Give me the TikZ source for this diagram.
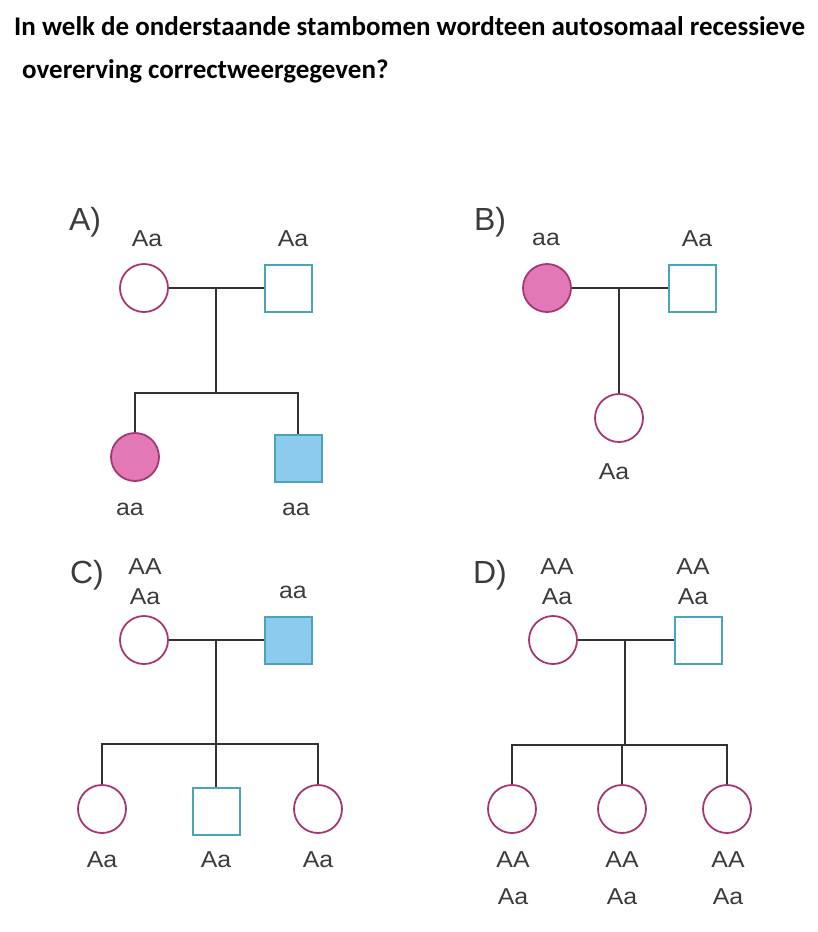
\documentclass[tikz,border=0pt]{standalone}
\usepackage{fontspec}
\setmainfont{Liberation Sans}
\newfontfamily\titlefont{Carlito}
\newfontfamily\genofont[FakeStretch=1.08]{Liberation Sans}
\usetikzlibrary{positioning,calc}

\definecolor{femline}{RGB}{165,55,115}
\definecolor{femfill}{RGB}{226,120,182}
\definecolor{malline}{RGB}{75,165,185}
\definecolor{malfill}{RGB}{140,202,238}
\definecolor{linegray}{RGB}{50,50,50}
\definecolor{txtgray}{RGB}{60,60,60}

\begin{document}
\begin{tikzpicture}[x=1pt,y=-1pt]
\tikzset{female/.style={circle,draw=femline,line width=1.8pt,fill=white,minimum size=48pt,inner sep=0pt}}
\tikzset{male/.style={rectangle,draw=malline,line width=2pt,fill=white,minimum size=47pt,inner sep=0pt}}
\tikzset{ill/.style={fill=femfill},illm/.style={fill=malfill}}
\tikzset{geno/.style={text=txtgray,font=\genofont\fontsize{23}{30}\selectfont,align=center,inner sep=0pt}}
\tikzset{panel/.style={text=txtgray,font=\fontsize{32}{33}\selectfont,inner sep=0pt}}
\tikzset{link/.style={draw=linegray,line width=2pt}}
\useasboundingbox (0,0) rectangle (818,932);
% vraag
\node[anchor=base west,inner sep=0pt,font=\titlefont\bfseries\fontsize{27}{30}\selectfont] (q1) at (14,35) {In welk de onderstaande stambomen wordteen autosomaal recessieve};
\node[anchor=base west,inner sep=0pt,font=\titlefont\bfseries\fontsize{27}{30}\selectfont] (q2) at (22,78) {overerving correctweergegeven?};
% A
\node[panel] (pa) at (85,222) {A)};
\node[female] (af) at (144,288) {};
\node[male] (am) at (288,288) {};
\node[female,ill] (ac1) at (135,457) {};
\node[male,illm] (ac2) at (298,458) {};
\node[geno] (afl) at (147,239) {Aa};
\node[geno] (aml) at (293,239) {Aa};
\node[geno] (ac1l) at (130,509) {aa};
\node[geno] (ac2l) at (296,509) {aa};
\coordinate (a1) at (216,288);
\coordinate (a2) at (216,393);
\draw[link] (af) -- (am);
\draw[link] (a1) -- (a2);
\draw[link] (ac1.north) -- (ac1.north |- a2) -- (ac2.north |- a2) -- (ac2.north);
% B
\node[panel] (pb) at (490,222) {B)};
\node[female,ill] (bf) at (547,288) {};
\node[male] (bm) at (692,288) {};
\node[female] (bc1) at (619,418) {};
\node[geno] (bfl) at (546,239) {aa};
\node[geno] (bml) at (697,239) {Aa};
\node[geno] (bc1l) at (614,472) {Aa};
\coordinate (b1) at (bc1.north |- bf);
\draw[link] (bf) -- (bm);
\draw[link] (b1) -- (bc1.north);
% C
\node[panel] (pc) at (87,575) {C)};
\node[female] (cf) at (144,640) {};
\node[male,illm] (cm) at (288,640) {};
\node[female] (cc1) at (102,809) {};
\node[male] (cc2) at (216,811) {};
\node[female] (cc3) at (318,809) {};
\node[geno] (cfl) at (145,582) {AA\\Aa};
\node[geno] (cml) at (293,592) {aa};
\node[geno] (cc1l) at (102,860) {Aa};
\node[geno] (cc2l) at (216,860) {Aa};
\node[geno] (cc3l) at (318,860) {Aa};
\coordinate (c1) at (216,640);
\coordinate (c2) at (216,744);
\draw[link] (cf) -- (cm);
\draw[link] (c1) -- (c2) -- (cc2.north);
\draw[link] (cc1.north) -- (cc1.north |- c2) -- (cc3.north |- c2) -- (cc3.north);
% D
\node[panel] (pd) at (490,575) {D)};
\node[female] (df) at (553,640) {};
\node[male] (dm) at (698,640) {};
\node[female] (dc1) at (512,809) {};
\node[female] (dc2) at (622,809) {};
\node[female] (dc3) at (727,809) {};
\node[geno] (dfl) at (557,582) {AA\\Aa};
\node[geno] (dml) at (693,582) {AA\\Aa};
\node[geno] (dc1l) at (513,878) {AA\\[7pt]Aa};
\node[geno] (dc2l) at (622,878) {AA\\[7pt]Aa};
\node[geno] (dc3l) at (728,878) {AA\\[7pt]Aa};
\coordinate (d1) at (625,640);
\coordinate (d2) at (625,745);
\draw[link] (df) -- (dm);
\draw[link] (d1) -- (d2);
\draw[link] (dc1.north) -- (dc1.north |- d2) -- (dc3.north |- d2) -- (dc3.north);
\draw[link] (dc2.north) -- (dc2.north |- d2);
\end{tikzpicture}
\end{document}
